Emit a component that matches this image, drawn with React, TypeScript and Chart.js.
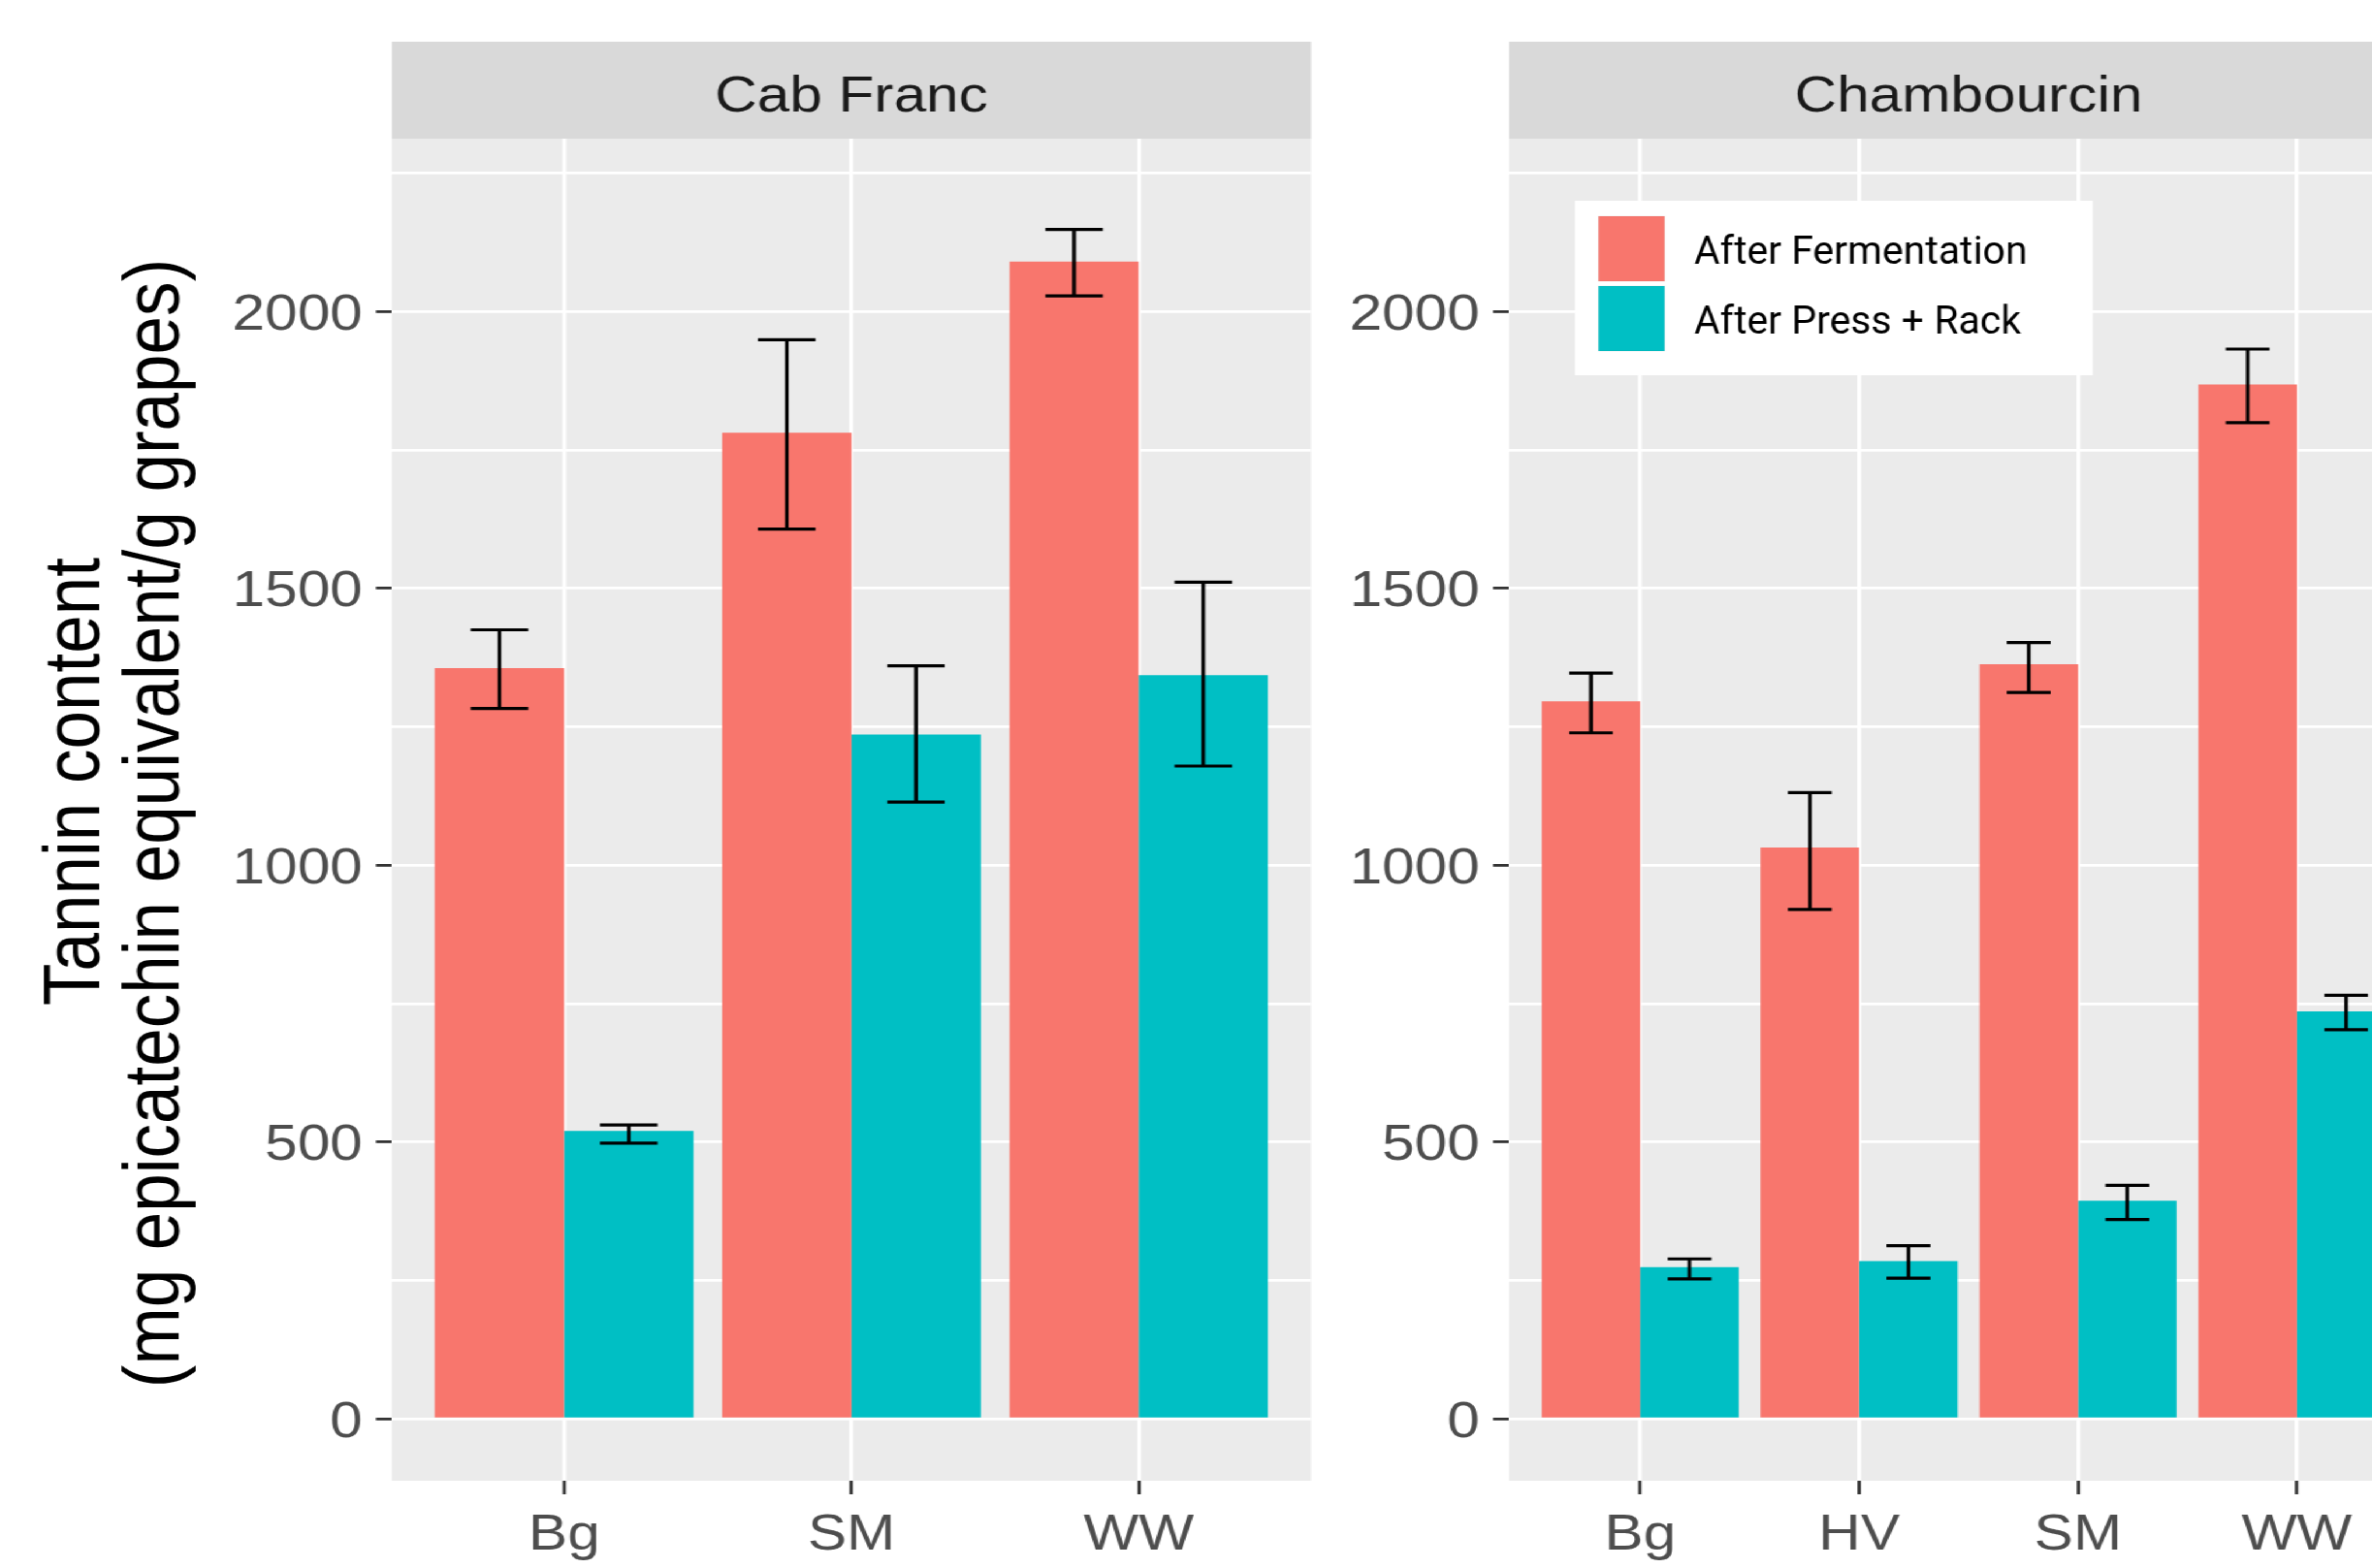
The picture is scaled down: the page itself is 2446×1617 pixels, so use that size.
import React, { useEffect, useRef } from 'react';
import { Chart, registerables } from 'chart.js';

Chart.register(...registerables);

// ---------------- data ----------------
const SERIES = ['After Fermentation', 'After Press + Rack'];
const COLORS = ['#F8766D', '#00BFC4'];
const FACETS = ['Cab Franc', 'Chambourcin'];

const CABFRANC_CATS = ['Bg', 'SM', 'WW'];
const CABFRANC_FERM = [1356, 1781, 2090];
const CABFRANC_FERM_LO = [1283, 1607, 2028];
const CABFRANC_FERM_HI = [1425, 1949, 2148];
const CABFRANC_PRESS = [520, 1236, 1343];
const CABFRANC_PRESS_LO = [498, 1114, 1179];
const CABFRANC_PRESS_HI = [531, 1360, 1511];

const CHAMB_CATS = ['Bg', 'HV', 'SM', 'WW'];
const CHAMB_FERM = [1296, 1032, 1363, 1868];
const CHAMB_FERM_LO = [1239, 920, 1312, 1799];
const CHAMB_FERM_HI = [1347, 1131, 1402, 1932];
const CHAMB_PRESS = [274, 285, 394, 736];
const CHAMB_PRESS_LO = [253, 254, 360, 703];
const CHAMB_PRESS_HI = [289, 313, 422, 765];

const Y_TICKS = [0, 250, 500, 750, 1000, 1250, 1500, 1750, 2000, 2250];
const Y_MIN = -111.6;
const Y_MAX = 2312;
const Y_TITLE = ['Tannin content', '(mg epicatechin equivalent/g grapes)'];

// ---------------- layout ----------------
const SX = 1.16; // horizontal stretch of the original picture
const H = 1617;
const STRIP_TOP = 43;
const PLOT_TOP = 143;
const X_AXIS_H = 1617 - 1527;
const FONT = '"Liberation Sans", Arial, Helvetica, sans-serif';
const LEGEND_FONT = 'Roboto, "Liberation Sans", Arial, sans-serif';

type PanelSpec = {
  facet: string;
  cats: string[];
  values: number[][];
  lo: number[][];
  hi: number[][];
  left: number;
  width: number;
  areaLeft: number;
  areaRight: number;
  yTitle: boolean;
  legend: boolean;
};

const PANELS: PanelSpec[] = [
  {
    facet: FACETS[0],
    cats: CABFRANC_CATS,
    values: [CABFRANC_FERM, CABFRANC_PRESS],
    lo: [CABFRANC_FERM_LO, CABFRANC_PRESS_LO],
    hi: [CABFRANC_FERM_HI, CABFRANC_PRESS_HI],
    left: 0,
    width: 1180,
    areaLeft: 404 / SX,
    areaRight: 1352 / SX,
    yTitle: true,
    legend: false,
  },
  {
    facet: FACETS[1],
    cats: CHAMB_CATS,
    values: [CHAMB_FERM, CHAMB_PRESS],
    lo: [CHAMB_FERM_LO, CHAMB_PRESS_LO],
    hi: [CHAMB_FERM_HI, CHAMB_PRESS_HI],
    left: 1180,
    width: 1080,
    areaLeft: 1556 / SX - 1180,
    areaRight: 2504 / SX - 1180,
    yTitle: false,
    legend: true,
  },
];

function PanelChart({ spec }: { spec: PanelSpec }) {
  const ref = useRef<HTMLCanvasElement | null>(null);

  useEffect(() => {
    const canvas = ref.current;
    if (!canvas) return;
    const n = spec.cats.length;

    const bgPlugin = {
      id: 'facetBg',
      beforeDraw(chart: any) {
        const { ctx, chartArea: a } = chart;
        ctx.save();
        ctx.fillStyle = '#EBEBEB';
        ctx.fillRect(a.left, a.top, a.right - a.left, a.bottom - a.top);
        ctx.fillStyle = '#D9D9D9';
        ctx.fillRect(a.left, STRIP_TOP, a.right - a.left, a.top - STRIP_TOP);
        ctx.fillStyle = '#1A1A1A';
        ctx.font = `52px ${FONT}`;
        ctx.textAlign = 'center';
        ctx.textBaseline = 'alphabetic';
        ctx.fillText(spec.facet, (a.left + a.right) / 2, 114.8);
        ctx.restore();
      },
    };

    const errPlugin = {
      id: 'errBars',
      afterDatasetsDraw(chart: any) {
        const { ctx } = chart;
        const xs = chart.scales.x;
        const ys = chart.scales.y;
        const half = Math.abs(xs.getPixelForValue(1) - xs.getPixelForValue(0)) * 0.1;
        ctx.save();
        ctx.strokeStyle = '#000000';
        ctx.lineWidth = 3.2;
        ctx.lineCap = 'butt';
        chart.data.datasets.forEach((ds: any, i: number) => {
          const meta = chart.getDatasetMeta(i);
          meta.data.forEach((bar: any, j: number) => {
            const x = bar.x;
            const yl = ys.getPixelForValue(ds.errLo[j]);
            const yh = ys.getPixelForValue(ds.errHi[j]);
            ctx.beginPath();
            ctx.moveTo(x, yl);
            ctx.lineTo(x, yh);
            ctx.moveTo(x - half, yl);
            ctx.lineTo(x + half, yl);
            ctx.moveTo(x - half, yh);
            ctx.lineTo(x + half, yh);
            ctx.stroke();
          });
        });
        ctx.restore();
      },
    };

    const titlePlugin = {
      id: 'yTitle',
      afterDraw(chart: any) {
        if (!spec.yTitle) return;
        const { ctx } = chart;
        const pos = [
          [101.7 / SX, 806],
          [184 / SX, 849],
        ];
        ctx.save();
        ctx.fillStyle = '#000000';
        ctx.font = `71px ${FONT}`;
        ctx.textAlign = 'center';
        ctx.textBaseline = 'alphabetic';
        Y_TITLE.forEach((t, k) => {
          ctx.save();
          ctx.translate(pos[k][0], pos[k][1]);
          ctx.rotate(-Math.PI / 2);
          ctx.fillText(t, 0, 0);
          ctx.restore();
        });
        ctx.restore();
      },
    };

    const legendPlugin = {
      id: 'insetLegend',
      afterDraw(chart: any) {
        if (!spec.legend) return;
        const { ctx } = chart;
        ctx.save();
        // draw in the un-stretched page coordinates
        ctx.translate(-spec.left, 0);
        ctx.scale(1 / SX, 1);
        ctx.fillStyle = '#FFFFFF';
        ctx.fillRect(1624, 207, 534, 180);
        chart.data.datasets.forEach((ds: any, i: number) => {
          const ky = 223 + i * 72;
          ctx.fillStyle = ds.backgroundColor;
          ctx.fillRect(1648.5, ky, 68, 67);
          ctx.strokeStyle = 'rgba(0,0,0,0.06)';
          ctx.lineWidth = 1;
          ctx.strokeRect(1648.5, ky, 68, 67);
          ctx.fillStyle = '#000000';
          ctx.font = `41px ${LEGEND_FONT}`;
          ctx.textAlign = 'left';
          ctx.textBaseline = 'alphabetic';
          ctx.fillText(ds.label, 1747, 271.7 + i * 72);
        });
        ctx.restore();
      },
    };

    const chart = new Chart(canvas, {
      type: 'bar',
      data: {
        datasets: SERIES.map((name, i) => ({
          label: name,
          data: spec.cats.map((_, j) => ({ x: j + 1, y: spec.values[i][j] })),
          backgroundColor: COLORS[i],
          borderWidth: 0,
          categoryPercentage: 0.9,
          barPercentage: 1,
          errLo: spec.lo[i],
          errHi: spec.hi[i],
        })) as any,
      },
      options: {
        animation: false,
        responsive: true,
        maintainAspectRatio: false,
        devicePixelRatio: 1,
        events: [],
        layout: {
          padding: { top: PLOT_TOP, bottom: 0, left: 0, right: spec.width - spec.areaRight },
        },
        plugins: {
          legend: { display: false },
          tooltip: { enabled: false },
          title: { display: false },
        },
        scales: {
          x: {
            type: 'linear',
            min: 0.4,
            max: n + 0.6,
            bounds: 'data',
            offset: false,
            afterBuildTicks: (s: any) => {
              s.ticks = spec.cats.map((_, i) => ({ value: i + 1 }));
            },
            afterFit: (s: any) => {
              s.height = X_AXIS_H;
            },
            ticks: {
              autoSkip: false,
              maxRotation: 0,
              minRotation: 0,
              padding: 11,
              color: '#4D4D4D',
              font: { size: 52, family: FONT },
              callback: (v: any) => spec.cats[Math.round(Number(v)) - 1] ?? '',
            },
            grid: {
              offset: false,
              color: '#FFFFFF',
              lineWidth: 3.4,
              drawTicks: true,
              tickLength: 14,
              tickWidth: 3,
              tickColor: '#333333',
            },
            border: { display: false },
          } as any,
          y: {
            type: 'linear',
            min: Y_MIN,
            max: Y_MAX,
            bounds: 'data',
            afterBuildTicks: (s: any) => {
              s.ticks = Y_TICKS.map((v) => ({ value: v }));
            },
            afterFit: (s: any) => {
              s.width = spec.areaLeft;
            },
            ticks: {
              autoSkip: false,
              padding: 12,
              labelOffset: 4,
              color: '#4D4D4D',
              font: { size: 52, family: FONT },
              callback: (v: any) => (Number(v) % 500 === 0 ? String(v) : ''),
            },
            grid: {
              color: '#FFFFFF',
              lineWidth: 2.8,
              drawTicks: true,
              tickLength: 14,
              tickWidth: 2.8,
              tickColor: (c: any) =>
                c.tick && c.tick.value % 500 === 0 ? '#333333' : 'rgba(0,0,0,0)',
            },
            border: { display: false },
          } as any,
        },
      },
      plugins: [bgPlugin, errPlugin, titlePlugin, legendPlugin],
    });

    return () => chart.destroy();
  }, [spec]);

  return (
    <div
      style={{
        position: 'absolute',
        left: spec.left,
        top: 0,
        width: spec.width,
        height: H,
      }}
    >
      <canvas ref={ref} />
    </div>
  );
}

export default function App() {
  return (
    <div
      style={{
        position: 'fixed',
        left: 0,
        top: 0,
        width: 2446,
        height: 1617,
        overflow: 'hidden',
        background: '#FFFFFF',
      }}
    >
      <div
        style={{
          position: 'absolute',
          left: 0,
          top: 0,
          width: 2260,
          height: H,
          transform: `scaleX(${SX})`,
          transformOrigin: '0 0',
        }}
      >
        {PANELS.map((p) => (
          <PanelChart key={p.facet} spec={p} />
        ))}
      </div>
    </div>
  );
}
